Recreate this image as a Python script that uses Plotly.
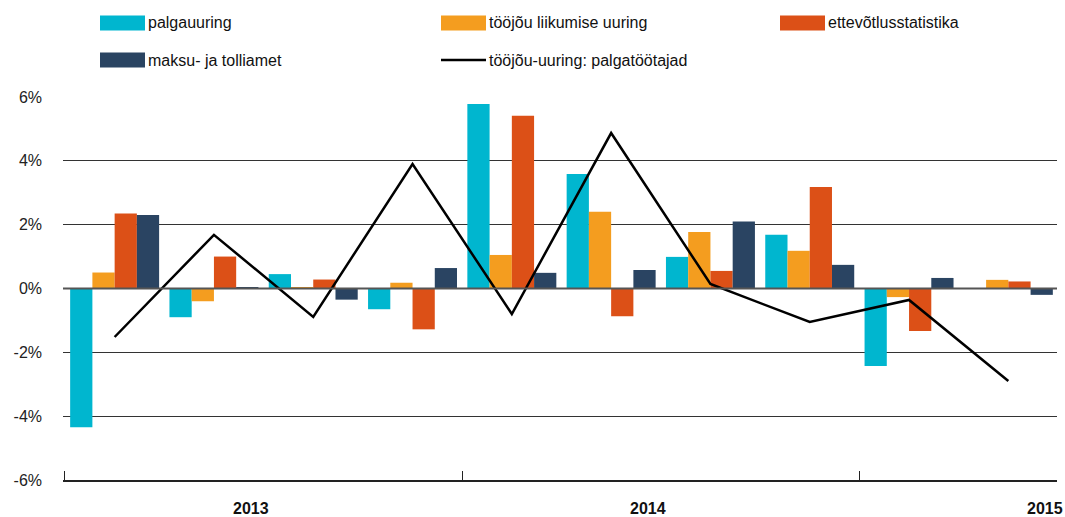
import plotly.graph_objects as go

quarters = ["2013 I", "2013 II", "2013 III", "2013 IV",
            "2014 I", "2014 II", "2014 III", "2014 IV",
            "2015 I", "2015 II"]
palgauuring = [-4.35, -0.90, 0.45, -0.65, 5.78, 3.59, 0.99, 1.68, -2.43, None]
tooj_liikumise = [0.50, -0.40, 0.02, 0.18, 1.05, 2.40, 1.77, 1.18, -0.27, 0.27]
ettevotlus = [2.35, 1.00, 0.28, -1.28, 5.41, -0.87, 0.55, 3.18, -1.33, 0.22]
maksu = [2.30, 0.03, -0.35, 0.64, 0.49, 0.58, 2.10, 0.74, 0.33, -0.20]
tooj_uuring = [-1.52, 1.68, -0.89, 3.90, -0.80, 4.87, 0.14, -1.05, -0.36, -2.90]

years = ["2013", "2014", "2015"]
year_start_idx = [0, 4, 8]

bar_series = [
    ("palgauuring", palgauuring, "#00B6CF"),
    ("tööjõu liikumise uuring", tooj_liikumise, "#F49D1F"),
    ("ettevõtlusstatistika", ettevotlus, "#DC5017"),
    ("maksu- ja tolliamet", maksu, "#2A4462"),
]
line_name = "tööjõu-uuring: palgatöötajad"

x = list(range(len(quarters)))
FONT = "Liberation Sans, Arial, Helvetica, sans-serif"

fig = go.Figure()
for name, vals, col in bar_series:
    fig.add_trace(go.Bar(x=x, y=vals, name=name, marker_color=col,
                         marker_line_width=0, showlegend=False,
                         hovertext=quarters))
fig.add_trace(go.Scatter(x=x, y=tooj_uuring, name=line_name, mode="lines",
                         line=dict(color="black", width=2.5), showlegend=False,
                         hovertext=quarters))

W, H = 1065, 517
# plot area in screenshot pixels: left 63, right 1057, top ~96, bottom 480
L, R, T, B = 63, W - 1057, 96, H - 480
pw, ph = W - L - R, H - T - B

def px2x(px):
    return (px - L) / pw

def px2y(py):
    return (H - B - py) / ph

shapes = []
annotations = []
# manual legend
legend_items = [
    (bar_series[0][0], bar_series[0][2], 100, 23, "bar"),
    (bar_series[1][0], bar_series[1][2], 441, 23, "bar"),
    (bar_series[2][0], bar_series[2][2], 780, 23, "bar"),
    (bar_series[3][0], bar_series[3][2], 100, 60, "bar"),
    (line_name, "black", 441, 60, "line"),
]
for name, col, sx, sy, kind in legend_items:
    if kind == "bar":
        shapes.append(dict(type="rect", xref="paper", yref="paper",
                           x0=px2x(sx), x1=px2x(sx + 45),
                           y0=px2y(sy + 7.5), y1=px2y(sy - 7.5),
                           fillcolor=col, line=dict(width=0)))
    else:
        shapes.append(dict(type="line", xref="paper", yref="paper",
                           x0=px2x(sx), x1=px2x(sx + 45),
                           y0=px2y(sy), y1=px2y(sy),
                           line=dict(color=col, width=2.5)))
    annotations.append(dict(text=name, xref="paper", yref="paper",
                            x=px2x(sx + 46), y=px2y(sy), xanchor="left",
                            yanchor="middle", showarrow=False,
                            font=dict(family=FONT, size=16, color="#111")))

# zero line above bars
shapes.append(dict(type="line", xref="paper", yref="y", x0=0, x1=1, y0=0, y1=0,
                   line=dict(color="#555", width=2), layer="above"))

# year labels
for yr, idx in zip(years, year_start_idx):
    annotations.append(dict(text="<b>" + yr + "</b>", xref="x", yref="paper",
                            x=idx + 1.37, y=px2y(508), xanchor="center",
                            yanchor="middle", showarrow=False,
                            font=dict(family=FONT, size=16, color="#111")))

fig.update_layout(
    width=W, height=H,
    margin=dict(l=L, r=R, t=T, b=B),
    plot_bgcolor="white", paper_bgcolor="white",
    barmode="group", bargap=0.104, bargroupgap=0,
    shapes=shapes, annotations=annotations,
    font=dict(family=FONT, size=15, color="#222"),
)
fig.update_xaxes(range=[-0.52, 9.49], showgrid=False, zeroline=False,
                 showticklabels=False, tickmode="array",
                 tickvals=[i - 0.5 for i in year_start_idx],
                 ticks="inside", ticklen=9, tickcolor="#222", tickwidth=1,
                 showline=True, linecolor="#222", linewidth=1.5)
fig.update_yaxes(range=[-6, 6.03], tickmode="array",
                 tickvals=[-6, -4, -2, 0, 2, 4, 6],
                 ticktext=["-6%", "-4%", "-2%", "0%", "2%", "4%", "6%"],
                 showgrid=True, gridcolor="#333", gridwidth=1,
                 zeroline=False, ticklabelstandoff=20,
                 tickfont=dict(family=FONT, size=16, color="#222"))

fig.write_html(
    "out.html",
    config={"displayModeBar": False},
    post_script="document.body.style.margin='0';document.body.style.overflow='hidden';",
)
